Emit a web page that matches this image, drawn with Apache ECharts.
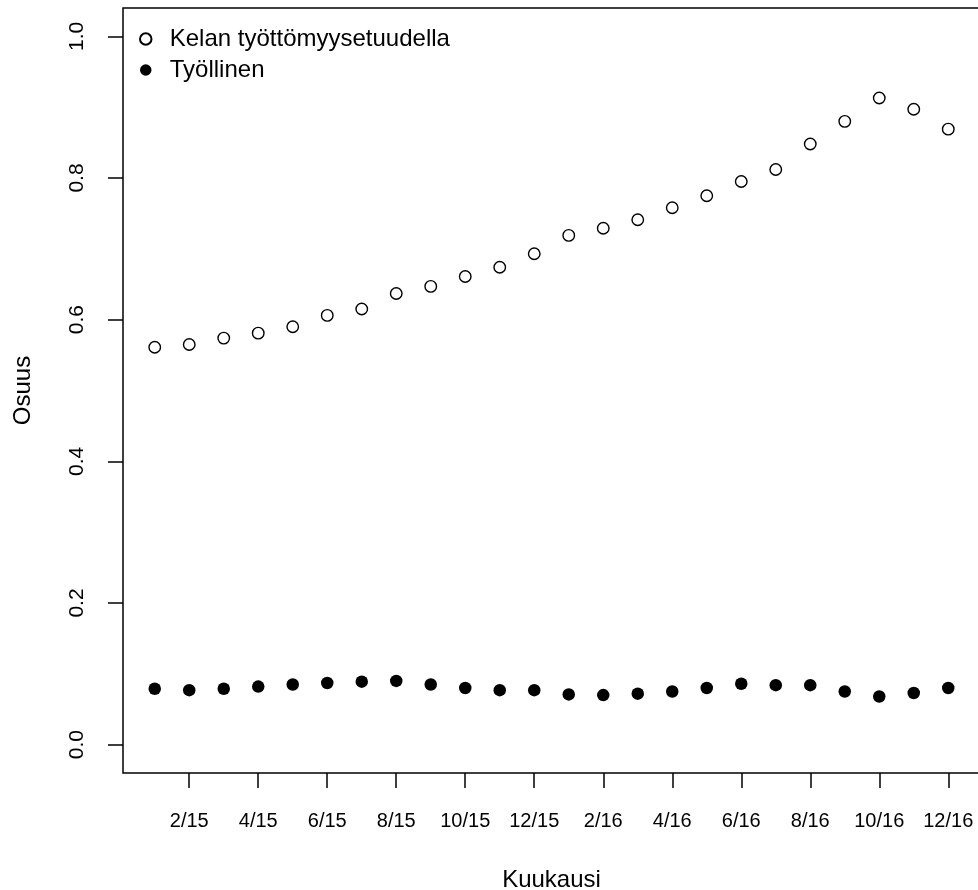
<!DOCTYPE html>
<html>
<head>
<meta charset="utf-8">
<script src="https://cdn.jsdelivr.net/npm/echarts@6/dist/echarts.min.js"></script>
<style>
  html, body { margin: 0; padding: 0; background: #fff; }
  #chart { width: 978px; height: 890px; }
</style>
</head>
<body>
<div id="chart"></div>
<script>
// Months (x categories), one point per month
const months = ['1/15','2/15','3/15','4/15','5/15','6/15','7/15','8/15','9/15','10/15','11/15','12/15',
                '1/16','2/16','3/16','4/16','5/16','6/16','7/16','8/16','9/16','10/16','11/16','12/16'];
// Shown x tick labels
const xTickLabels = ['2/15','4/15','6/15','8/15','10/15','12/15','2/16','4/16','6/16','8/16','10/16','12/16'];
// Y tick values
const yTicks = [0.0, 0.2, 0.4, 0.6, 0.8, 1.0];
// Series names
const seriesNames = ['Kelan työttömyysetuudella', 'Työllinen'];
// Share receiving Kela unemployment benefit
const kelaValues = [0.561, 0.565, 0.574, 0.581, 0.590, 0.606, 0.615, 0.637, 0.647, 0.661, 0.674, 0.693,
                    0.719, 0.729, 0.741, 0.758, 0.775, 0.795, 0.812, 0.848, 0.880, 0.913, 0.897, 0.869];
// Share employed
const employedValues = [0.079, 0.077, 0.079, 0.082, 0.085, 0.087, 0.089, 0.090, 0.085, 0.080, 0.077, 0.077,
                        0.071, 0.070, 0.072, 0.075, 0.080, 0.086, 0.084, 0.084, 0.075, 0.068, 0.073, 0.080];

const xTickPos = xTickLabels.map(l => months.indexOf(l) + 1);
const toPoints = vals => vals.map((v, i) => [i + 1, v]);

const FONT = '"Liberation Sans", Arial, sans-serif';
const chart = echarts.init(document.getElementById('chart'), null, { renderer: 'canvas' });

chart.setOption({
  animation: false,
  backgroundColor: '#ffffff',
  grid: {
    left: 123, top: 8, width: 857, height: 765,
    containLabel: false,
    outerBoundsMode: 'none',
    show: true, borderColor: '#000', borderWidth: 1.5, backgroundColor: 'transparent'
  },
  legend: {
    orient: 'vertical',
    left: 134, top: 22,
    itemWidth: 38, itemHeight: 11.5, itemGap: 7,
    icon: 'circle',
    data: seriesNames,
    textStyle: { fontFamily: FONT, fontSize: 24, color: '#000', lineHeight: 24 }
  },
  xAxis: {
    type: 'value',
    position: 'bottom',
    min: 0.08, max: 24.92,
    name: 'Kuukausi',
    nameLocation: 'middle',
    nameGap: 95,
    nameTextStyle: { fontFamily: FONT, fontSize: 24, color: '#000' },
    splitLine: { show: false },
    axisLine: { show: false, onZero: false },
    axisTick: {
      show: true, inside: false, length: 15, customValues: xTickPos,
      lineStyle: { color: '#000', width: 1.5 }
    },
    axisLabel: {
      show: true, margin: 38, customValues: xTickPos,
      fontFamily: FONT, fontSize: 20, color: '#000',
      formatter: v => months[Math.round(v) - 1]
    }
  },
  yAxis: {
    type: 'value',
    position: 'left',
    min: -0.04, max: 1.04,
    name: 'Osuus',
    nameLocation: 'middle',
    nameGap: 88,
    nameRotate: 90,
    nameTextStyle: { fontFamily: FONT, fontSize: 24, color: '#000' },
    splitLine: { show: false },
    axisLine: { show: false, onZero: false },
    axisTick: {
      show: true, inside: false, length: 15, customValues: yTicks,
      lineStyle: { color: '#000', width: 1.5 }
    },
    axisLabel: {
      show: true, margin: 35, rotate: 90, customValues: yTicks,
      fontFamily: FONT, fontSize: 21, color: '#000',
      formatter: v => v.toFixed(1)
    }
  },
  series: [
    {
      name: seriesNames[0],
      type: 'scatter',
      data: toPoints(kelaValues),
      symbol: 'circle',
      symbolSize: 11.5,
      itemStyle: { color: '#fff', borderColor: '#000', borderWidth: 1.4, opacity: 1 },
      emphasis: { disabled: true }
    },
    {
      name: seriesNames[1],
      type: 'scatter',
      data: toPoints(employedValues),
      symbol: 'circle',
      symbolSize: 12.5,
      itemStyle: { color: '#000', opacity: 1 },
      emphasis: { disabled: true }
    }
  ]
});
</script>
</body>
</html>
